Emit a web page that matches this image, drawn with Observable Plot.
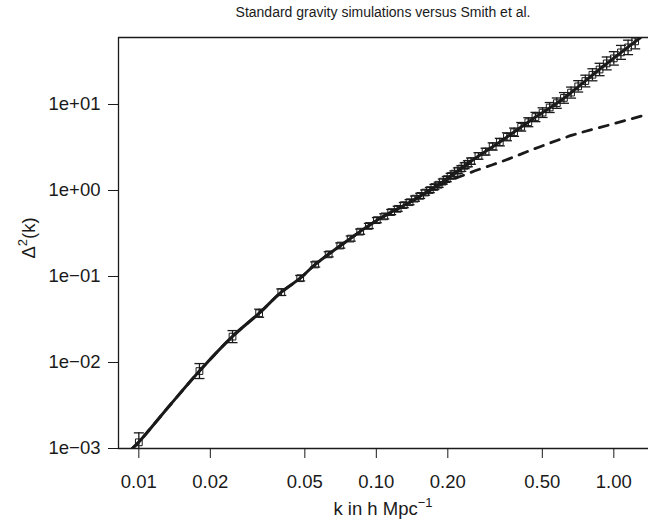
<!DOCTYPE html>
<html><head><meta charset="utf-8">
<script src="https://cdn.jsdelivr.net/npm/d3@7"></script>
<script src="https://cdn.jsdelivr.net/npm/@observablehq/plot@0.6"></script>
<style>body{margin:0;background:#fff}svg{display:block}</style>
</head><body><div id="chart"></div>
<script>
// Simulation measurements (k in h/Mpc, Delta^2, half-width of error bar in dex)
const kSim = [0.0100,0.0180,0.0248,0.0321,0.0398,0.0478,0.0553,0.0630,0.0705,0.0780,0.0855,0.0930,0.1005,0.1080,0.1155,0.1230,0.1305,0.1380,0.1455,0.1530,0.1605,0.1680,0.1755,0.1830,0.1905,0.1980,0.2055,0.2130,0.2205,0.2280,0.2355,0.2430,0.2505,
  0.2692,0.2884,0.3090,0.3311,0.3548,0.3802,0.4074,0.4365,0.4677,0.5012,0.5370,0.5754,0.6166,0.6607,0.7079,0.7586,0.8128,0.8710,0.9333,1.000,1.0715,1.1482,1.2303];
const d2Sim = [0.00118,0.00795,0.0200,0.0374,0.0657,0.0955,0.138,0.181,0.229,0.276,0.332,0.387,0.452,0.500,0.561,0.612,0.676,0.731,0.804,0.866,0.946,1.012,1.098,1.166,1.268,1.357,1.475,1.570,1.700,1.800,1.941,2.046,2.195,
  2.52,2.83,3.25,3.65,4.21,4.76,5.50,6.22,7.15,8.04,9.22,10.36,11.92,13.75,16.25,18.74,22.15,25.52,30.02,34.35,40.35,46.10,54.20];
const errSim = [0.11,0.087,0.07,0.047,0.038,0.032,0.03,0.03,0.03,0.03,0.03,0.03,0.03,0.03,0.03,0.03,0.03,0.03,0.03,0.03,0.03,0.03,0.03,0.03,0.03,0.03,0.03,0.031,0.032,0.033,0.034,0.035,0.036,
  0.038,0.040,0.042,0.044,0.046,0.048,0.050,0.052,0.054,0.056,0.058,0.060,0.062,0.064,0.066,0.068,0.070,0.072,0.075,0.078,0.081,0.084,0.087];
// Smith et al. nonlinear fit (solid)
const kNL  = [0.00938,0.0100,0.0136,0.0180,0.0248,0.0321,0.0398,0.0478,0.0553,0.0707,0.1002,0.1393,0.1864,0.2566,0.3334,0.4459,0.6141,0.8790,1.296];
const d2NL = [0.00100,0.00119,0.00325,0.00796,0.0201,0.0374,0.0657,0.0955,0.138,0.229,0.448,0.740,1.206,2.294,3.714,6.516,11.74,26.22,60.13];
// Linear theory (dashed)
const kLin  = [0.00938,0.0100,0.0136,0.0180,0.0248,0.0321,0.0398,0.0478,0.0553,0.0707,0.1002,0.1393,0.1864,0.2468,0.3467,0.4832,0.6683,0.9380,1.382];
const d2Lin = [0.00100,0.00119,0.00325,0.00796,0.0201,0.0374,0.0657,0.0955,0.138,0.229,0.445,0.735,1.165,1.600,2.233,3.188,4.395,5.700,7.649];
// Axes
const xTicks = [0.01,0.02,0.05,0.1,0.2,0.5,1];
const xTickLabels = ["0.01","0.02","0.05","0.10","0.20","0.50","1.00"];
const yTicks = [1e-3,1e-2,1e-1,1,10];
const yTickLabels = ["1e\u221203","1e\u221202","1e\u221201","1e+00","1e+01"];
const xDomain = [0.008211,1.3997];
const yDomain = [0.001,60.1];
const titleText = "Standard gravity simulations versus Smith et al.";

const sim = kSim.map((k,i)=>({k, d:d2Sim[i], lo:d2Sim[i]*Math.pow(10,-errSim[i]), hi:d2Sim[i]*Math.pow(10,errSim[i])}));
const nl = kNL.map((k,i)=>({k, d:d2NL[i]}));
const lin = kLin.map((k,i)=>({k, d:d2Lin[i]}));
const cap = {draw(ctx){ctx.moveTo(-5,0);ctx.lineTo(5,0);}};
const ink = "#1a1a1a";
const font = "'Liberation Sans', Arial, Helvetica, sans-serif";

const svg = Plot.plot({
  width:648, height:531,
  marginTop:37, marginLeft:118, marginRight:0, marginBottom:83,
  style:{fontFamily:font, fontSize:"18.5px", background:"#fff", color:ink},
  x:{type:"log", domain:xDomain, ticks:xTicks, tickFormat:d=>xTickLabels[xTicks.findIndex(t=>Math.abs(t-d)<1e-9)], tickSize:10, tickPadding:16, label:null},
  y:{type:"log", domain:yDomain, ticks:yTicks, tickFormat:d=>yTickLabels[yTicks.findIndex(t=>Math.abs(t/d-1)<1e-6)], tickSize:10, tickPadding:8, label:null},
  marks:[
    Plot.ruleX(sim,{x:"k", y1:"lo", y2:"hi", stroke:ink, strokeWidth:1.3, clip:true}),
    Plot.dot(sim,{x:"k", y:"lo", symbol:cap, stroke:ink, fill:"none", strokeWidth:1.3, clip:true}),
    Plot.dot(sim,{x:"k", y:"hi", symbol:cap, stroke:ink, fill:"none", strokeWidth:1.3, clip:true}),
    Plot.dot(sim,{x:"k", y:"d", symbol:"square", r:3.8, stroke:ink, fill:"none", strokeWidth:1, clip:true}),
    Plot.line(lin,{x:"k", y:"d", stroke:ink, strokeWidth:2.8, strokeDasharray:"9,8", curve:"catmull-rom", clip:true}),
    Plot.line(nl,{x:"k", y:"d", stroke:ink, strokeWidth:3, curve:"catmull-rom", clip:true}),
    Plot.ruleY([yDomain[0]],{stroke:ink, strokeWidth:1.3}),
    Plot.ruleY([yDomain[1]],{stroke:ink, strokeWidth:1.3}),
    Plot.ruleX([xDomain[0]],{stroke:ink, strokeWidth:1.3})
  ]
});
document.getElementById("chart").appendChild(svg);

const s = d3.select(svg);
s.append("text").attr("x",383).attr("y",17).attr("text-anchor","middle")
  .attr("font-family",font).attr("font-size",14).attr("fill",ink).text(titleText);
const xl = s.append("text").attr("x",383).attr("y",515).attr("text-anchor","middle")
  .attr("font-family",font).attr("font-size",18.5).attr("fill",ink);
xl.append("tspan").text("k in h Mpc");
xl.append("tspan").attr("font-size",13).attr("dy",-8).text("\u22121");
const yl = s.append("text").attr("transform","translate(35,238) rotate(-90)").attr("text-anchor","middle")
  .attr("font-family",font).attr("font-size",18.5).attr("fill",ink);
yl.append("tspan").text("\u0394");
yl.append("tspan").attr("font-size",13).attr("dy",-8).text("2");
yl.append("tspan").attr("dy",8).text("(k)");
</script></body></html>
